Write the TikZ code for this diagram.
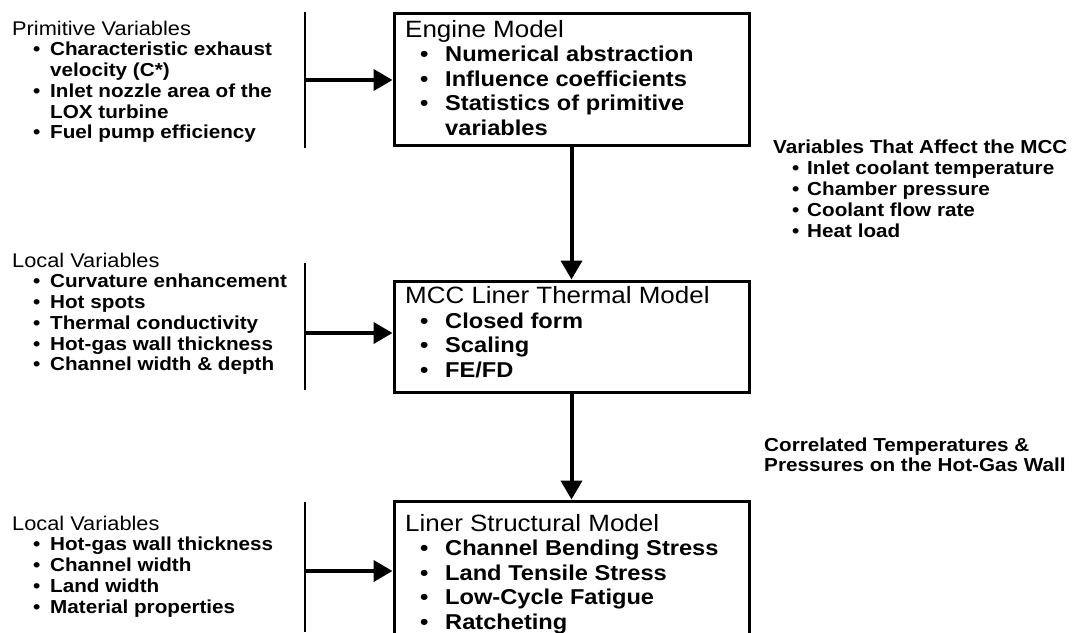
\documentclass[tikz,border=0pt]{standalone}
\usepackage{fontspec}
\setmainfont{Liberation Sans}[FakeStretch=1.1]
\usetikzlibrary{arrows.meta}

% bullet lines: left side, inside the models, right side
\newcommand{\lbul}{\hspace*{21pt}\makebox[17pt][l]{\textbullet}}
\newcommand{\lcont}{\hspace*{38pt}}
\newcommand{\mbul}{\hspace*{15pt}\makebox[25pt][l]{\textbullet}}
\newcommand{\mcont}{\hspace*{40pt}}
\newcommand{\rbul}{\hspace*{19pt}\makebox[15pt][l]{\textbullet}}

\begin{document}
\begin{tikzpicture}
      [x=1pt, y=-1pt,
        modelbox/.style={draw, line width=3pt, minimum width=355pt, inner sep=0pt},
        modeltext/.style={anchor=north west, align=left, inner sep=0pt,
          font=\fontsize{21.5}{24.5}\selectfont\bfseries},
        sidetext/.style={anchor=north west, align=left, inner sep=0pt,
          font=\fontsize{18.8}{20.7}\selectfont\bfseries},
        sidebar/.style={line width=2.5pt},
        feed/.style={line width=4pt, -{Triangle[length=19pt, width=21pt]}}]
      \useasboundingbox (0,0) rectangle (1091,632);
      \clip (0,0) rectangle (1091,632);

      % the three models
      \node[modelbox, minimum height=132pt] (engine) at (571.5,79) {};
      \node[modelbox, minimum height=111pt] (thermal) at (571.5,336.5) {};
      \node[modelbox, minimum height=140pt] (struct) at (571.5,571) {};

      \node[modeltext] (enginetxt) at (405,20)
        {{\fontsize{23.6}{24.5}\selectfont\mdseries Engine Model}\\
         \mbul Numerical abstraction\\
         \mbul Influence coefficients\\
         \mbul Statistics of primitive\\
         \mcont variables};
      \node[modeltext] (thermaltxt) at (405,286.5)
        {{\fontsize{23.6}{24.5}\selectfont\mdseries MCC Liner Thermal Model}\\
         \mbul Closed form\\
         \mbul Scaling\\
         \mbul FE/FD};
      \node[modeltext] (structtxt) at (405,514)
        {{\fontsize{23.6}{24.5}\selectfont\mdseries Liner Structural Model}\\
         \mbul Channel Bending Stress\\
         \mbul Land Tensile Stress\\
         \mbul Low-Cycle Fatigue\\
         \mbul Ratcheting};

      % inputs on the left
      \node[sidetext] (primvars) at (12,20.7)
        {{\fontsize{19.8}{20.7}\selectfont\mdseries Primitive Variables}\\
         \lbul Characteristic exhaust\\
         \lcont velocity (C*)\\
         \lbul Inlet nozzle area of the\\
         \lcont LOX turbine\\
         \lbul Fuel pump efficiency};
      \node[sidetext] (thermvars) at (12,252.7)
        {{\fontsize{19.8}{20.7}\selectfont\mdseries Local Variables}\\
         \lbul Curvature enhancement\\
         \lbul Hot spots\\
         \lbul Thermal conductivity\\
         \lbul Hot-gas wall thickness\\
         \lbul Channel width \& depth};
      \node[sidetext] (structvars) at (12,515.7)
        {{\fontsize{19.8}{20.7}\selectfont\mdseries Local Variables}\\
         \lbul Hot-gas wall thickness\\
         \lbul Channel width\\
         \lbul Land width\\
         \lbul Material properties};

      \draw[sidebar] (305,12) -- (305,148);
      \draw[sidebar] (305,263) -- (305,390);
      \draw[sidebar] (305,502) -- (305,632);

      \coordinate (in1) at (305,80);
      \coordinate (in2) at (305,333);
      \coordinate (in3) at (305,571);
      \draw[feed] (in1) -- (in1 -| engine.west);
      \draw[feed] (in2) -- (in2 -| thermal.west);
      \draw[feed] (in3) -- (in3 -| struct.west);

      % notes on the right
      \node[sidetext, font=\fontsize{18.8}{21}\selectfont\bfseries] (mccvars) at (773,139.5)
        {Variables That Affect the MCC\\
         \rbul Inlet coolant temperature\\
         \rbul Chamber pressure\\
         \rbul Coolant flow rate\\
         \rbul Heat load};
      \node[sidetext, font=\fontsize{18.8}{20}\selectfont\bfseries] (walltemps) at (764,437.5)
        {Correlated Temperatures \&\\
         Pressures on the Hot-Gas Wall};

      \draw[feed] (engine) -- (thermal);
      \draw[feed] (thermal) -- (struct);
\end{tikzpicture}
\end{document}
